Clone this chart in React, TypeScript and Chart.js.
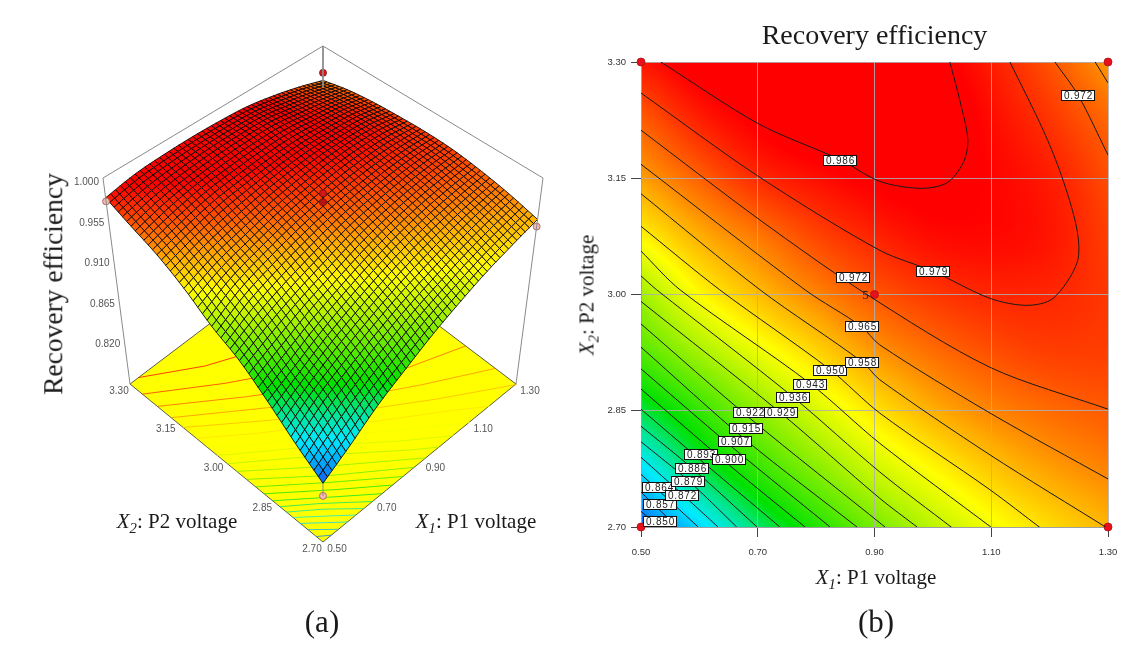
import React, { useEffect, useRef } from "react";
import { Chart, registerables } from "chart.js";

Chart.register(...registerables);

// ---- grid of response values ----
const x1Nodes = [0.5, 0.6, 0.7, 0.8, 0.9, 1.0, 1.1, 1.2, 1.3];
const x2Nodes = [3.3, 3.225, 3.15, 3.075, 3.0, 2.925, 2.85, 2.775, 2.7];
const zRow330 = [0.982, 0.988, 0.99, 0.9905, 0.9895, 0.987, 0.981, 0.973, 0.963];
const zRow322 = [0.9715, 0.9805, 0.986, 0.989, 0.99, 0.989, 0.9835, 0.9775, 0.97];
const zRow315 = [0.9615, 0.971, 0.979, 0.983, 0.986, 0.9868, 0.9845, 0.981, 0.974];
const zRow307 = [0.9465, 0.959, 0.9675, 0.975, 0.98, 0.9835, 0.984, 0.982, 0.976];
const zRow300 = [0.927, 0.945, 0.9565, 0.9655, 0.9725, 0.977, 0.9795, 0.9795, 0.977];
const zRow292 = [0.912, 0.9275, 0.941, 0.952, 0.9625, 0.969, 0.9735, 0.976, 0.976];
const zRow285 = [0.89, 0.9065, 0.9235, 0.9375, 0.9495, 0.959, 0.9655, 0.9695, 0.972];
const zRow277 = [0.866, 0.889, 0.9065, 0.922, 0.9355, 0.9458, 0.9548, 0.9615, 0.966];
const zRow270 = [0.845, 0.8645, 0.886, 0.903, 0.919, 0.932, 0.943, 0.951, 0.958];
const zTable = [zRow330, zRow322, zRow315, zRow307, zRow300, zRow292, zRow285, zRow277, zRow270];

// ---- contour lines [X1, X2] ----
const c850 = [[0.5, 2.72], [0.533, 2.7]];
const c857 = [[0.5, 2.745], [0.562, 2.7]];
const c864 = [[0.5, 2.768], [0.598, 2.7]];
const c872 = [[0.5, 2.79], [0.574, 2.74], [0.632, 2.7]];
const c879 = [[0.5, 2.81], [0.581, 2.76], [0.664, 2.7]];
const c886 = [[0.5, 2.83], [0.589, 2.775], [0.699, 2.7]];
const c893 = [[0.5, 2.852], [0.601, 2.787], [0.738, 2.7]];
const c900 = [[0.5, 2.878], [0.651, 2.78], [0.781, 2.7]];
const c907 = [[0.5, 2.904], [0.661, 2.8], [0.824, 2.7]];
const c915 = [[0.5, 2.932], [0.68, 2.812], [0.87, 2.7]];
const c922 = [[0.5, 2.962], [0.687, 2.84], [0.918, 2.7]];
const c929 = [[0.5, 2.991], [0.738, 2.848], [0.909, 2.737], [0.973, 2.7]];
const c936 = [[0.5, 3.024], [0.527, 3.006], [0.76, 2.868], [0.909, 2.771], [1.033, 2.699]];
const c943 = [[0.5, 3.056], [0.567, 3.006], [0.79, 2.885], [0.909, 2.808], [1.101, 2.699]];
const c950 = [[0.5, 3.088], [0.635, 3.006], [0.824, 2.903], [0.909, 2.847], [1.098, 2.748], [1.184, 2.699]];
const c958 = [[0.5, 3.13], [0.704, 3.006], [0.879, 2.913], [0.909, 2.89], [1.098, 2.793], [1.3, 2.698]];
const c965 = [[0.5, 3.168], [0.781, 3.006], [0.877, 2.959], [0.909, 2.935], [1.098, 2.847], [1.3, 2.762]];
const c972 = [[0.5, 3.212], [0.704, 3.096], [0.887, 3.0], [1.098, 2.906], [1.3, 2.852]];
const c972b = [[1.209, 3.3], [1.249, 3.257], [1.3, 3.18]];
const c965b = [[1.278, 3.3], [1.3, 3.273]];
const c979 = [[0.5, 3.26], [0.7, 3.153], [0.909, 3.057], [1.0, 3.03], [1.098, 2.995], [1.161, 2.986], [1.206, 2.995], [1.247, 3.041], [1.247, 3.083], [1.221, 3.152], [1.189, 3.212], [1.132, 3.3]];
const c986 = [[0.534, 3.3], [0.702, 3.22], [0.841, 3.174], [0.909, 3.146], [0.978, 3.137], [1.024, 3.144], [1.052, 3.17], [1.06, 3.199], [1.046, 3.251], [1.029, 3.3]];

const contourLevels = [0.85, 0.857, 0.864, 0.872, 0.879, 0.886, 0.893, 0.9, 0.907, 0.915, 0.922, 0.929, 0.936, 0.943, 0.95, 0.958, 0.965, 0.972, 0.972, 0.965, 0.979, 0.986];
const contourLines = [c850, c857, c864, c872, c879, c886, c893, c900, c907, c915, c922, c929, c936, c943, c950, c958, c965, c972, c972b, c965b, c979, c986];

// ---- contour labels: text, X1, X2 ----
const labelTexts = ["0.850", "0.857", "0.864", "0.872", "0.879", "0.886", "0.893", "0.900", "0.907", "0.915", "0.922", "0.929", "0.936", "0.943", "0.950", "0.958", "0.965", "0.972", "0.972", "0.979", "0.986"];
const labelX1 = [0.533, 0.533, 0.53, 0.571, 0.58, 0.588, 0.602, 0.651, 0.661, 0.68, 0.687, 0.74, 0.76, 0.79, 0.824, 0.879, 0.879, 0.863, 1.249, 1.0, 0.841];
const labelX2 = [2.708, 2.73, 2.751, 2.741, 2.759, 2.776, 2.794, 2.788, 2.811, 2.828, 2.848, 2.848, 2.868, 2.885, 2.903, 2.913, 2.96, 3.022, 3.257, 3.03, 3.174];

// ---- design points ----
const cornerX1 = [0.5, 1.3, 0.5, 1.3, 0.9];
const cornerX2 = [3.3, 3.3, 2.7, 2.7, 3.0];
const redX1 = [1.3, 0.9, 0.9];
const redX2 = [3.3, 3.0, 3.0];
const redZ = [0.972, 0.987, 0.977];
const pinkX1 = [0.5, 0.5, 1.3];
const pinkX2 = [3.3, 2.7, 2.7];
const pinkZ = [0.978, 0.83, 0.95];

// ---- axis ticks ----
const x1Ticks = [0.5, 0.7, 0.9, 1.1, 1.3];
const x2Ticks = [2.7, 2.85, 3.0, 3.15, 3.3];
const zTicks = [1.0, 0.955, 0.91, 0.865, 0.82];
const Z_MIN = 0.775;
const Z_MAX = 1.004;

const colorStops: [number, number, number, number][] = [
  [0.845, 20, 90, 240], [0.856, 0, 170, 255], [0.868, 0, 235, 255], [0.882, 0, 230, 150],
  [0.897, 0, 225, 0], [0.925, 150, 240, 0], [0.945, 255, 255, 0], [0.96, 255, 170, 0],
  [0.972, 255, 90, 0], [0.985, 255, 0, 0],
];

function rgbFor(z: number): [number, number, number] {
  if (z <= colorStops[0][0]) return [colorStops[0][1], colorStops[0][2], colorStops[0][3]];
  for (let i = 1; i < colorStops.length; i++) {
    const b = colorStops[i];
    if (z <= b[0]) {
      const a = colorStops[i - 1];
      const t = (z - a[0]) / (b[0] - a[0]);
      return [a[1] + (b[1] - a[1]) * t, a[2] + (b[2] - a[2]) * t, a[3] + (b[3] - a[3]) * t];
    }
  }
  return [255, 0, 0];
}
const cssFor = (z: number) => {
  const c = rgbFor(z);
  return `rgb(${c[0] | 0},${c[1] | 0},${c[2] | 0})`;
};

// Smooth reading of the table for shading (rendering only)
function node(r: number, c: number): number {
  const nR = zTable.length - 1;
  const nC = zTable[0].length - 1;
  if (r < 0) return 2 * node(0, c) - node(1, c);
  if (r > nR) return 2 * node(nR, c) - node(nR - 1, c);
  if (c < 0) return 2 * node(r, 0) - node(r, 1);
  if (c > nC) return 2 * node(r, nC) - node(r, nC - 1);
  return zTable[r][c];
}
const cr = (a: number, b: number, c: number, d: number, t: number) =>
  b + 0.5 * t * (c - a + t * (2 * a - 5 * b + 4 * c - d + t * (3 * (b - c) + d - a)));
function surfaceAt(x1: number, x2: number): number {
  const fc = (x1 - x1Nodes[0]) / (x1Nodes[1] - x1Nodes[0]);
  const fr = (x2Nodes[0] - x2) / (x2Nodes[0] - x2Nodes[1]);
  const c = Math.min(Math.max(Math.floor(fc), 0), x1Nodes.length - 2);
  const r = Math.min(Math.max(Math.floor(fr), 0), x2Nodes.length - 2);
  const tc = fc - c;
  const tr = fr - r;
  const rows = [-1, 0, 1, 2].map((d) =>
    cr(node(r + d, c - 1), node(r + d, c), node(r + d, c + 1), node(r + d, c + 2), tc)
  );
  return cr(rows[0], rows[1], rows[2], rows[3], tr);
}

// ---- 3-D view: the box corners seen on the left panel ----
type P = [number, number];
const floorQuad: P[] = [[323, 542], [516, 384], [323, 238], [130, 384]];
const topQuad: P[] = [[323, 350], [543, 178], [323, 46], [103, 178]];

function homography(q: P[]) {
  const [p0, p1, p2, p3] = q;
  const dx1 = p1[0] - p2[0], dx2 = p3[0] - p2[0], sx = p0[0] - p1[0] + p2[0] - p3[0];
  const dy1 = p1[1] - p2[1], dy2 = p3[1] - p2[1], sy = p0[1] - p1[1] + p2[1] - p3[1];
  const den = dx1 * dy2 - dx2 * dy1;
  const g = (sx * dy2 - dx2 * sy) / den;
  const h = (dx1 * sy - sx * dy1) / den;
  const a = p1[0] - p0[0] + g * p1[0], b = p3[0] - p0[0] + h * p3[0];
  const d = p1[1] - p0[1] + g * p1[1], e = p3[1] - p0[1] + h * p3[1];
  return (u: number, v: number): P => {
    const w = g * u + h * v + 1;
    return [(a * u + b * v + p0[0]) / w, (d * u + e * v + p0[1]) / w];
  };
}
const floorMap = homography(floorQuad);
const topMap = homography(topQuad);
function project(x1: number, x2: number, z: number): P {
  const u = (x1 - 0.5) / 0.8;
  const v = (x2 - 2.7) / 0.6;
  const f = floorMap(u, v);
  const t = topMap(u, v);
  const k = (z - Z_MIN) / (Z_MAX - Z_MIN);
  return [f[0] + (t[0] - f[0]) * k, f[1] + (t[1] - f[1]) * k];
}
const xy = (p: P) => ({ x: p[0], y: p[1] });

const SANS = '"Liberation Sans", Arial, sans-serif';
const SERIF = '"Liberation Serif", "Times New Roman", serif';

const surfacePlugin = {
  id: "surface3d",
  beforeDatasetsDraw(chart: any) {
    const { ctx, scales } = chart;
    const sx = scales.x, sy = scales.y;
    const pt = (p: P): P => [sx.getPixelForValue(p[0]), sy.getPixelForValue(p[1])];
    const poly = (ps: P[]) => {
      ctx.beginPath();
      ps.forEach((p, i) => {
        const q = pt(p);
        if (i) ctx.lineTo(q[0], q[1]);
        else ctx.moveTo(q[0], q[1]);
      });
    };
    ctx.save();
    // floor
    poly([project(0.5, 2.7, Z_MIN), project(1.3, 2.7, Z_MIN), project(1.3, 3.3, Z_MIN), project(0.5, 3.3, Z_MIN)]);
    ctx.closePath();
    ctx.fillStyle = "#ffff00";
    ctx.fill();
    ctx.strokeStyle = "#333";
    ctx.lineWidth = 0.8;
    ctx.stroke();
    // floor contours
    ctx.lineWidth = 1;
    ctx.globalAlpha = 0.75;
    contourLines.forEach((line, i) => {
      poly(line.map((p) => project(p[0], p[1], Z_MIN)));
      ctx.strokeStyle = cssFor(contourLevels[i]);
      ctx.stroke();
    });
    ctx.globalAlpha = 1;
    // mesh, back to front
    const n = 48;
    ctx.lineWidth = 1;
    ctx.strokeStyle = "rgba(10,5,0,0.88)";
    const corner = (i: number, j: number): [P, number] => {
      const a = 0.5 + (0.8 * i) / n;
      const b = 2.7 + (0.6 * j) / n;
      const z = surfaceAt(a, b);
      return [project(a, b, z), z];
    };
    for (let i = n - 1; i >= 0; i--) {
      for (let j = n - 1; j >= 0; j--) {
        const c0 = corner(i, j), c1 = corner(i + 1, j), c2 = corner(i + 1, j + 1), c3 = corner(i, j + 1);
        poly([c0[0], c1[0], c2[0], c3[0]]);
        ctx.closePath();
        ctx.fillStyle = cssFor((c0[1] + c1[1] + c2[1] + c3[1]) / 4);
        ctx.fill();
        ctx.stroke();
      }
    }
    // tick labels
    ctx.fillStyle = "#555";
    ctx.font = `10px ${SANS}`;
    ctx.textAlign = "center";
    ctx.textBaseline = "middle";
    zTicks.forEach((z) => {
      const p = pt(project(0.5, 3.3, z));
      ctx.fillText(z.toFixed(3), p[0] - 17, p[1] + 1);
    });
    x2Ticks.forEach((v) => {
      const p = pt(project(0.5, v, Z_MIN));
      ctx.fillText(v.toFixed(2), p[0] - 11, p[1] + 7);
    });
    x1Ticks.forEach((v) => {
      const p = pt(project(v, 2.7, Z_MIN));
      ctx.fillText(v.toFixed(2), p[0] + 14, p[1] + 7);
    });
    ctx.restore();
  },
};

const heatPlugin = {
  id: "heat",
  beforeDraw(chart: any) {
    const { ctx, chartArea: a, scales } = chart;
    const w = Math.round(a.right - a.left);
    const h = Math.round(a.bottom - a.top);
    const off = document.createElement("canvas");
    off.width = w;
    off.height = h;
    const oc = off.getContext("2d")!;
    const img = oc.createImageData(w, h);
    for (let py = 0; py < h; py++) {
      const x2 = scales.y.getValueForPixel(a.top + py + 0.5);
      for (let px = 0; px < w; px++) {
        const x1 = scales.x.getValueForPixel(a.left + px + 0.5);
        const c = rgbFor(surfaceAt(x1, x2));
        const k = (py * w + px) * 4;
        img.data[k] = c[0];
        img.data[k + 1] = c[1];
        img.data[k + 2] = c[2];
        img.data[k + 3] = 255;
      }
    }
    oc.putImageData(img, 0, 0);
    ctx.drawImage(off, a.left, a.top);
  },
};

const labelPlugin = {
  id: "contourLabels",
  afterDatasetsDraw(chart: any) {
    const { ctx, scales } = chart;
    ctx.save();
    ctx.font = `10px ${SANS}`;
    ctx.textAlign = "center";
    ctx.textBaseline = "middle";
    (ctx as any).letterSpacing = "0.8px";
    labelTexts.forEach((t, i) => {
      const x = Math.round(scales.x.getPixelForValue(labelX1[i]));
      const y = Math.round(scales.y.getPixelForValue(labelX2[i]));
      ctx.fillStyle = "#fff";
      ctx.fillRect(x - 17, y - 5, 34, 11);
      ctx.strokeStyle = "#111";
      ctx.lineWidth = 1;
      ctx.strokeRect(x - 16.5, y - 4.5, 33, 10);
      ctx.fillStyle = "#222";
      ctx.fillText(t, x + 0.5, y + 1);
    });
    (ctx as any).letterSpacing = "0px";
    ctx.font = `13px ${SERIF}`;
    ctx.fillStyle = "#222";
    ctx.fillText("5", scales.x.getPixelForValue(0.9) - 9, scales.y.getPixelForValue(3.0) + 1);
    ctx.restore();
  },
};

function Txt(props: { x: number; y: number; size: number; rot?: number; children: any }) {
  const { x, y, size, rot, children } = props;
  return (
    <div
      style={{
        position: "absolute",
        left: x,
        top: y,
        transform: `translate(-50%,-50%)${rot ? ` rotate(${rot}deg)` : ""}`,
        fontFamily: SERIF,
        fontSize: size,
        color: "#1a1a1a",
        whiteSpace: "nowrap",
        lineHeight: 1,
      }}
    >
      {children}
    </div>
  );
}
const AxisName = ({ n, name }: { n: number; name: string }) => (
  <>
    <i>
      X<sub style={{ fontSize: "70%", lineHeight: 0 }}>{n}</sub>
    </i>
    : {name}
  </>
);

export default function App() {
  const leftRef = useRef<HTMLCanvasElement>(null);
  const rightRef = useRef<HTMLCanvasElement>(null);

  useEffect(() => {
    const frame = (a: P, b: P, color = "#8a8a8a") => ({
      data: [xy(a), xy(b)],
      showLine: true,
      pointRadius: 0,
      borderColor: color,
      borderWidth: 1,
    });
    const tl = project(0.5, 3.3, Z_MAX), tr = project(1.3, 2.7, Z_MAX), tb = project(1.3, 3.3, Z_MAX);
    const left = new Chart(leftRef.current!, {
      type: "scatter",
      plugins: [surfacePlugin],
      data: {
        datasets: [
          frame(tl, tb),
          frame(tb, tr),
          frame(tl, project(0.5, 3.3, Z_MIN)),
          frame(tr, project(1.3, 2.7, Z_MIN)),
          frame(tb, project(1.3, 3.3, 0.955)),
          frame(project(0.5, 2.7, 0.83), project(0.5, 2.7, surfaceAt(0.5, 2.7))),
          {
            data: redX1.map((a, i) => xy(project(a, redX2[i], redZ[i]))),
            pointRadius: 3.5,
            pointBackgroundColor: ["#e01515", "#d01818", "#b81414"],
            pointBorderColor: "#7a1010",
            pointBorderWidth: 0.8,
          },
          {
            data: pinkX1.map((a, i) => xy(project(a, pinkX2[i], pinkZ[i]))),
            pointRadius: 3.5,
            pointBackgroundColor: "#f3b9b4",
            pointBorderColor: "#9a5a50",
            pointBorderWidth: 0.8,
          },
        ] as any,
      },
      options: {
        animation: false,
        responsive: false,
        layout: { padding: 0, autoPadding: false },
        plugins: { legend: { display: false }, tooltip: { enabled: false } },
        scales: {
          x: { type: "linear", min: 0, max: 570, display: false },
          y: { type: "linear", min: 0, max: 659, reverse: true, display: false },
        },
      },
    } as any);

    const right = new Chart(rightRef.current!, {
      type: "scatter",
      plugins: [heatPlugin, labelPlugin],
      data: {
        datasets: [
          ...contourLines.map((line) => ({
            data: line.map((p) => ({ x: p[0], y: p[1] })),
            showLine: true,
            pointRadius: 0,
            borderColor: "#1a1a1a",
            borderWidth: 1,
            tension: 0.3,
          })),
          {
            data: cornerX1.map((a, i) => ({ x: a, y: cornerX2[i] })),
            pointRadius: 4,
            pointBackgroundColor: "#e8101c",
            pointBorderColor: "#b01010",
            pointBorderWidth: 0.8,
            clip: false,
          },
        ] as any,
      },
      options: {
        animation: false,
        responsive: false,
        layout: { padding: { left: 0, right: 34, top: 0, bottom: 0 }, autoPadding: false },
        plugins: {
          legend: { display: false },
          tooltip: { enabled: false },
          title: {
            display: true,
            text: "Recovery efficiency",
            fullSize: false,
            color: "#1a1a1a",
            font: { family: SERIF, size: 28, weight: "normal" },
            padding: { top: 20, bottom: 8.4 },
          },
        },
        scales: {
          x: {
            type: "linear",
            min: 0.5,
            max: 1.3,
            afterBuildTicks: (s: any) => {
              s.ticks = x1Ticks.map((value) => ({ value }));
            },
            afterFit: (s: any) => {
              s.height = 132;
            },
            ticks: {
              callback: (v: any) => Number(v).toFixed(2),
              color: "#333",
              font: { family: SANS, size: 9.5 },
              padding: 10,
              maxRotation: 0,
            },
            grid: { color: "rgba(175,175,175,0.85)", tickColor: "#444", tickLength: 10 },
            border: { color: "#a0a0a0" },
          },
          y: {
            type: "linear",
            min: 2.7,
            max: 3.3,
            afterBuildTicks: (s: any) => {
              s.ticks = x2Ticks.map((value) => ({ value }));
            },
            afterFit: (s: any) => {
              s.width = 71;
            },
            ticks: {
              callback: (v: any) => Number(v).toFixed(2),
              color: "#333",
              font: { family: SANS, size: 9.5 },
              padding: 5,
            },
            grid: { color: "rgba(175,175,175,0.85)", tickColor: "#444", tickLength: 10 },
            border: { color: "#a0a0a0" },
          },
        },
      },
    } as any);

    return () => {
      left.destroy();
      right.destroy();
    };
  }, []);

  return (
    <div style={{ position: "absolute", left: 0, top: 0, width: 1142, height: 659, background: "#fff", overflow: "hidden" }}>
      <canvas ref={leftRef} width={570} height={659} style={{ position: "absolute", left: 0, top: 0, width: 570, height: 659 }} />
      <canvas ref={rightRef} width={572} height={659} style={{ position: "absolute", left: 570, top: 0, width: 572, height: 659 }} />
      <Txt x={53} y={284} size={27.5} rot={-90}>Recovery efficiency</Txt>
      <Txt x={177} y={521} size={21}><AxisName n={2} name="P2 voltage" /></Txt>
      <Txt x={476} y={521} size={21}><AxisName n={1} name="P1 voltage" /></Txt>
      <Txt x={876} y={577} size={21}><AxisName n={1} name="P1 voltage" /></Txt>
      <Txt x={587} y={295} size={21} rot={-90}><AxisName n={2} name="P2 voltage" /></Txt>
      <Txt x={322} y={621} size={31}>(a)</Txt>
      <Txt x={876} y={621} size={31}>(b)</Txt>
    </div>
  );
}
